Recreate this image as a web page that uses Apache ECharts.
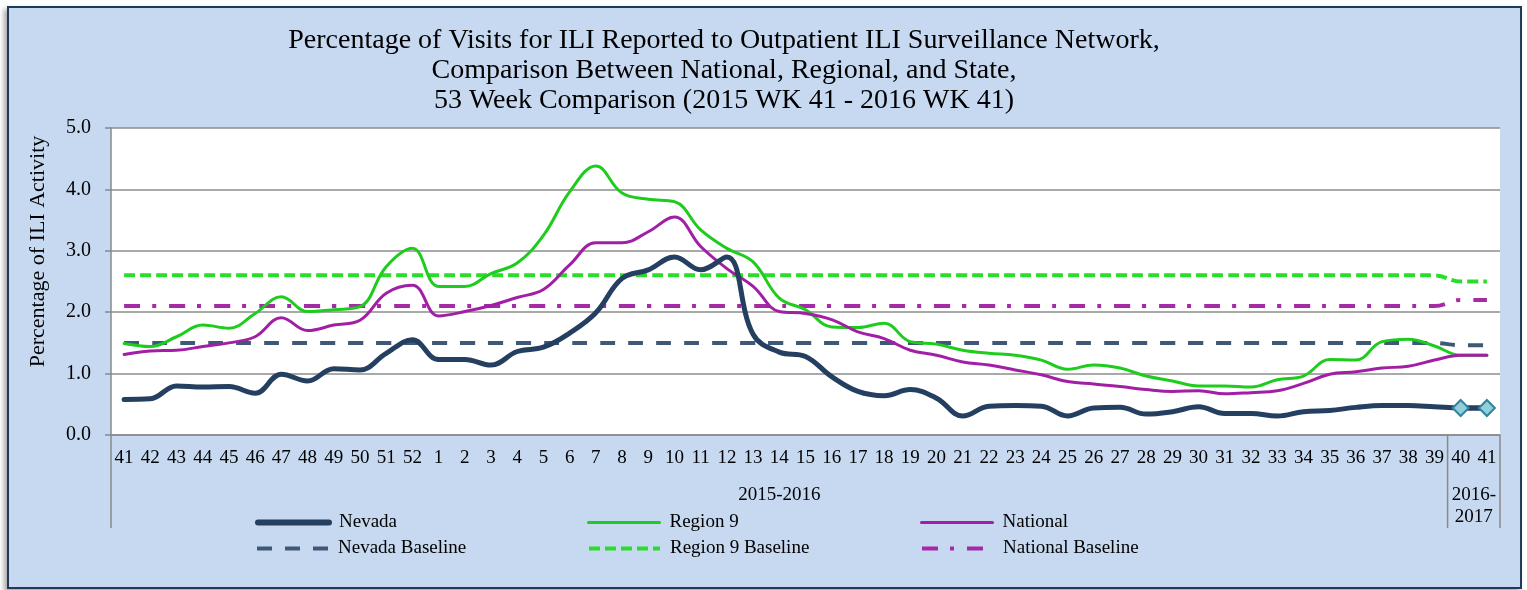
<!DOCTYPE html>
<html><head><meta charset="utf-8">
<script src="https://cdn.jsdelivr.net/npm/echarts@6/dist/echarts.min.js"></script>
<style>
html,body{margin:0;padding:0;background:#fff;overflow:hidden;}
#frame{position:absolute;left:7px;top:6px;width:1511px;height:579px;background:#C6D9F0;border:2.5px solid #213A5C;box-shadow:-3px 3px 5px rgba(0,0,0,0.35);}
#chart{position:absolute;left:0;top:0;width:1527px;height:590px;}
</style></head><body>
<div id="frame"></div><div id="chart"></div>
<script>
const weeks = ['41','42','43','44','45','46','47','48','49','50','51','52',
  '1','2','3','4','5','6','7','8','9','10','11','12','13','14','15','16','17','18','19','20',
  '21','22','23','24','25','26','27','28','29','30','31','32','33','34','35','36','37','38','39',
  '40','41'];
const nevada = [0.58,0.59,0.80,0.78,0.79,0.68,0.99,0.88,1.08,1.06,1.33,1.55,
  1.23,1.23,1.14,1.36,1.43,1.66,1.99,2.55,2.69,2.90,2.69,2.90,1.64,1.35,1.28,0.95,0.71,0.64,0.74,0.60,
  0.31,0.47,0.48,0.47,0.31,0.44,0.45,0.34,0.38,0.46,0.35,0.35,0.31,0.38,0.40,0.45,0.48,0.48,0.46,
  0.44,0.44];
const region9 = [1.49,1.44,1.60,1.79,1.74,1.98,2.25,2.01,2.04,2.09,2.74,3.04,
  2.42,2.42,2.63,2.80,3.25,3.96,4.38,3.94,3.84,3.80,3.34,3.04,2.82,2.23,2.04,1.76,1.75,1.82,1.52,1.48,
  1.38,1.33,1.30,1.22,1.07,1.14,1.09,0.96,0.88,0.80,0.80,0.78,0.90,0.96,1.23,1.22,1.52,1.56,1.45,
  1.30,1.30];
const national = [1.31,1.37,1.38,1.44,1.50,1.60,1.91,1.70,1.79,1.87,2.31,2.44,
  1.94,2.01,2.11,2.24,2.37,2.77,3.13,3.13,3.31,3.55,3.07,2.71,2.42,2.01,1.98,1.88,1.68,1.57,1.38,1.30,
  1.19,1.14,1.06,0.98,0.87,0.83,0.79,0.74,0.71,0.72,0.67,0.69,0.72,0.84,0.99,1.03,1.09,1.12,1.22,
  1.30,1.30];
const nevadaBaseline = [1.5,1.5,1.5,1.5,1.5,1.5,1.5,1.5,1.5,1.5,1.5,1.5,
  1.5,1.5,1.5,1.5,1.5,1.5,1.5,1.5,1.5,1.5,1.5,1.5,1.5,1.5,1.5,1.5,1.5,1.5,1.5,1.5,
  1.5,1.5,1.5,1.5,1.5,1.5,1.5,1.5,1.5,1.5,1.5,1.5,1.5,1.5,1.5,1.5,1.5,1.5,1.5,
  1.46,1.46];
const region9Baseline = [2.6,2.6,2.6,2.6,2.6,2.6,2.6,2.6,2.6,2.6,2.6,2.6,
  2.6,2.6,2.6,2.6,2.6,2.6,2.6,2.6,2.6,2.6,2.6,2.6,2.6,2.6,2.6,2.6,2.6,2.6,2.6,2.6,
  2.6,2.6,2.6,2.6,2.6,2.6,2.6,2.6,2.6,2.6,2.6,2.6,2.6,2.6,2.6,2.6,2.6,2.6,2.6,
  2.5,2.5];
const nationalBaseline = [2.1,2.1,2.1,2.1,2.1,2.1,2.1,2.1,2.1,2.1,2.1,2.1,
  2.1,2.1,2.1,2.1,2.1,2.1,2.1,2.1,2.1,2.1,2.1,2.1,2.1,2.1,2.1,2.1,2.1,2.1,2.1,2.1,
  2.1,2.1,2.1,2.1,2.1,2.1,2.1,2.1,2.1,2.1,2.1,2.1,2.1,2.1,2.1,2.1,2.1,2.1,2.1,
  2.2,2.2];
const seasonLabels = ['2015-2016', '2016-\n2017'];
const seasonSplit = 51; // first index of the 2016-2017 season
const titleText = 'Percentage of Visits for ILI Reported to Outpatient ILI Surveillance Network,\nComparison Between National, Regional, and State,\n53 Week Comparison (2015 WK 41 - 2016 WK 41)';

const FONT = '"Liberation Serif", "Times New Roman", serif';
const GRAY = '#898989';
const chart = echarts.init(document.getElementById('chart'), null, {renderer:'canvas'});

const styles = {
  'Nevada Baseline':   {color:'#3F5878', width:4, type:[15,13], cap:'butt'},
  'Region 9 Baseline': {color:'#2BDD2B', width:4, type:[11,5], cap:'butt'},
  'National Baseline': {color:'#A52AA5', width:4, type:[16,12,4,13], cap:'butt'},
  'Region 9':          {color:'#1ECC1E', width:3, type:'solid', cap:'round'},
  'National':          {color:'#A21FA5', width:3, type:'solid', cap:'round'},
  'Nevada':            {color:'#243F60', width:5, type:'solid', cap:'round'}
};

function lineSeries(name, data, z) {
  const s = styles[name];
  return {name, type:'line', data, smooth:0.4, symbol:'none', z,
    lineStyle:{color:s.color, width:s.width, type:s.type, cap:s.cap},
    itemStyle:{color:s.color}, emphasis:{disabled:true}};
}
function legendAt(name, left, top) {
  const s = styles[name];
  return {data:[{name, lineStyle:{color:s.color, width: name==='Nevada' ? 6 : s.width, type:s.type, cap:s.cap},
      itemStyle:{opacity:0}}],
    left, top, padding:0, itemWidth:71, itemHeight:14, selectedMode:false,
    itemStyle:{opacity:0},
    textStyle:{fontFamily:FONT, fontSize:19, color:'#000', padding:[0,0,0,5]}};
}

chart.setOption({
  animation:false,
  backgroundColor:'transparent',
  grid:{left:111, right:27, top:128, bottom:155, show:true, backgroundColor:'#fff', borderWidth:0},
  legend:[
    legendAt('Nevada', 255, 513),
    legendAt('Region 9', 587, 513),
    legendAt('National', 920, 513),
    legendAt('Nevada Baseline', 255, 539),
    legendAt('Region 9 Baseline', 587, 539),
    legendAt('National Baseline', 920, 539)
  ],
  xAxis:{type:'category', data:weeks, boundaryGap:true,
    axisLine:{show:true, lineStyle:{color:GRAY, width:1.5}},
    axisTick:{show:false},
    axisLabel:{interval:0, margin:14, fontFamily:FONT, fontSize:19, color:'#000', hideOverlap:false},
    splitLine:{show:false}},
  yAxis:{type:'value', min:0, max:5, interval:1,
    axisLine:{show:true, lineStyle:{color:GRAY, width:1.5}},
    axisTick:{show:true, length:6, lineStyle:{color:GRAY, width:1.5}},
    axisLabel:{formatter:v=>v.toFixed(1), margin:20, fontFamily:FONT, fontSize:20, color:'#000'},
    splitLine:{show:true, lineStyle:{color:'#8C8C8C', width:1.5}},
    name:'Percentage of ILI Activity', nameLocation:'middle', nameGap:62,
    nameTextStyle:{fontFamily:FONT, fontSize:22, color:'#000', padding:[0,0,0,60]}},
  series:[
    lineSeries('Nevada Baseline', nevadaBaseline, 2),
    lineSeries('Region 9 Baseline', region9Baseline, 2),
    lineSeries('National Baseline', nationalBaseline, 2),
    lineSeries('Region 9', region9, 3),
    lineSeries('National', national, 4),
    lineSeries('Nevada', nevada, 6),
    {name:'Nevada 2016-2017', type:'line', smooth:0.4, z:7,
     data: nevada.map((v,i)=> i>=seasonSplit ? v : null),
     symbol:'diamond', symbolSize:16, showSymbol:true,
     itemStyle:{color:'#92CDDC', borderColor:'#31849B', borderWidth:2},
     lineStyle:{color:'#243F60', width:5, cap:'round'}, emphasis:{disabled:true}}
  ]
});

const px = i => chart.convertToPixel({xAxisIndex:0}, i);
const band = px(1) - px(0);
const xs = [px(0) - band/2, px(seasonSplit) - band/2, px(weeks.length-1) + band/2];
const y0 = chart.convertToPixel({yAxisIndex:0}, 0);
const graphics = xs.map(x => ({type:'line', silent:true, z:10,
  shape:{x1:x, y1:y0, x2:x, y2:y0+93}, style:{stroke:GRAY, lineWidth:1.5}}));
graphics.push({type:'text', silent:true, x:(xs[0]+xs[1])/2, y:y0+60,
  style:{text:seasonLabels[0], font:'19px '+FONT, fill:'#000', align:'center', verticalAlign:'middle'}});
graphics.push({type:'text', silent:true, x:(xs[1]+xs[2])/2, y:y0+71,
  style:{text:seasonLabels[1], font:'19px '+FONT, fill:'#000', align:'center', verticalAlign:'middle', lineHeight:22}});
graphics.push({type:'text', silent:true, x:724, y:26,
  style:{text:titleText, font:'28px '+FONT, fill:'#000', align:'center', verticalAlign:'top', lineHeight:30}});
chart.setOption({graphic:graphics});
</script>
</body></html>
